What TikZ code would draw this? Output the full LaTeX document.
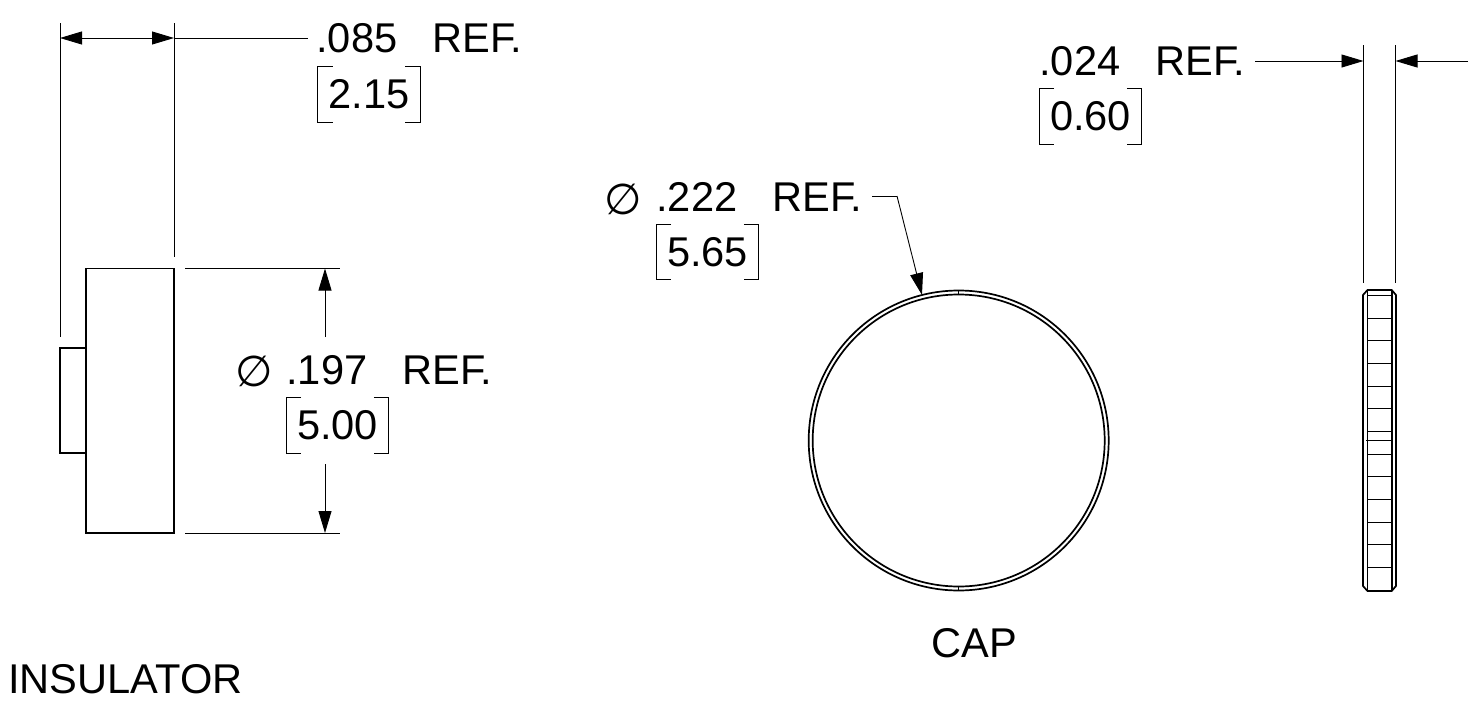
\documentclass[tikz,border=0pt]{standalone}
\usepackage{fontspec}
\setmainfont{Liberation Sans}
\newfontfamily\symfont{DejaVu Sans}
\usetikzlibrary{arrows.meta}
\tikzset{dim text/.style={anchor=base west,inner sep=0,font=\fontsize{20.8}{21}\selectfont}}
\tikzset{mm box/.style={inner sep=0,minimum width=51pt,minimum height=27.5pt,font=\fontsize{20.8}{21}\selectfont}}
\tikzset{dia sign/.style={inner sep=0,font=\fontsize{21.5}{22}\symfont}}
\tikzset{thin line/.style={line width=0.45pt}}
\tikzset{part line/.style={line width=0.85pt}}
\tikzset{tip/.style={-{Triangle[length=11pt,width=6.5pt]},line width=0.45pt}}
\tikzset{two tips/.style={{Triangle[length=11pt,width=6.5pt]}-{Triangle[length=11pt,width=6.5pt]},line width=0.45pt}}
\newcommand{\gap}{\hspace{17.5pt}}

\begin{document}
\begin{tikzpicture}[x=0.5pt,y=-0.5pt]
\useasboundingbox (0,0) rectangle (1480,718);

    % insulator
    \draw[part line] (86,268.5) rectangle (174,533);
    \draw[part line] (86,348) -- (60,348) -- (60,453) -- (86,453);

    \coordinate (wa) at (60,23);
    \coordinate (wb) at (60,337);
    \coordinate (wc) at (174,23);
    \coordinate (wd) at (174,257);
    \draw[thin line] (wa) -- (wb);
    \draw[thin line] (wc) -- (wd);

    \coordinate (wl) at (60,38);
    \coordinate (wr) at (174,38);
    \coordinate (we) at (308,38);
    \draw[two tips] (wl) -- (wr);
    \draw[thin line] (wr) -- (we);

    \node[dim text] (wtext) at (316,52) {.085\gap REF.};
    \node[mm box] (wmm) at (369,94.5) {2.15};

    \coordinate (da) at (185,268.5);
    \coordinate (db) at (340,268.5);
    \coordinate (dc) at (185,533);
    \coordinate (dd) at (340,533);
    \draw[thin line] (da) -- (db);
    \draw[thin line] (dc) -- (dd);

    \coordinate (dt) at (325,268.5);
    \coordinate (dm) at (325,337);
    \coordinate (dn) at (325,464);
    \coordinate (dl) at (325,533);
    \draw[tip] (dm) -- (dt);
    \draw[tip] (dn) -- (dl);

    \node[dia sign] (dsign) at (254,371) {∅};
    \node[dim text] (dtext) at (286,384) {.197\gap REF.};
    \node[mm box] (dmm) at (337.5,425.5) {5.00};

    \node[dim text] (insulator) at (8,693) {INSULATOR};

    % cap, front view
    \draw[part line] (958.7,440.5) circle [radius=150];
    \draw[part line] (958.7,440.5) circle [radius=146];
    \draw[thin line] (958.7,290.5) -- (958.7,294.5);
    \draw[thin line] (958.7,586.5) -- (958.7,590.5);

    \node[dia sign] (csign) at (623,199) {∅};
    \node[dim text] (ctext) at (656,211) {.222\gap REF.};
    \node[mm box] (cmm) at (707.5,252) {5.65};

    \coordinate (ca) at (872,196);
    \coordinate (cb) at (897,196);
    \coordinate (cc) at (922,295);
    \draw[thin line] (ca) -- (cb);
    \draw[tip] (cb) -- (cc);

    \node[dim text] (cap) at (931,657) {CAP};

    % cap, side view
    \draw[part line] (1363,295) -- (1367.5,290) -- (1391.7,290) -- (1396,295) -- (1396,586)
        -- (1391.7,591) -- (1367.5,591) -- (1363,586) -- cycle;
    \draw[part line] (1367.5,290) -- (1367.5,591);
    \draw[part line] (1391.7,290) -- (1391.7,591);
    \foreach \y in {295,318,340.7,363.3,386,408.7,431.3,454,476.7,499.3,522.3,544.7,567.3}
        \draw[thin line] (1367.5,\y) -- (1391.7,\y);
    \draw[thin line] (1366,440.7) -- (1393,440.7);

    \coordinate (sa) at (1363.5,45);
    \coordinate (sb) at (1363.5,283);
    \coordinate (sc) at (1395.5,45);
    \coordinate (sd) at (1395.5,283);
    \draw[thin line] (sa) -- (sb);
    \draw[thin line] (sc) -- (sd);

    \coordinate (se) at (1255,61);
    \coordinate (sl) at (1363.5,61);
    \coordinate (sr) at (1395.5,61);
    \coordinate (sf) at (1468,61);
    \draw[tip] (se) -- (sl);
    \draw[tip] (sf) -- (sr);

    \node[dim text] (stext) at (1039,75) {.024\gap REF.};
    \node[mm box] (smm) at (1090.5,116.5) {0.60};

    % brackets round the metric values
    \foreach \b in {wmm,dmm,cmm,smm}{
        \draw[thin line] ([xshift=7.5pt]\b.north west) -- (\b.north west) -- (\b.south west) -- ([xshift=7.5pt]\b.south west);
        \draw[thin line] ([xshift=-7.5pt]\b.north east) -- (\b.north east) -- (\b.south east) -- ([xshift=-7.5pt]\b.south east);
    }

\end{tikzpicture}
\end{document}
